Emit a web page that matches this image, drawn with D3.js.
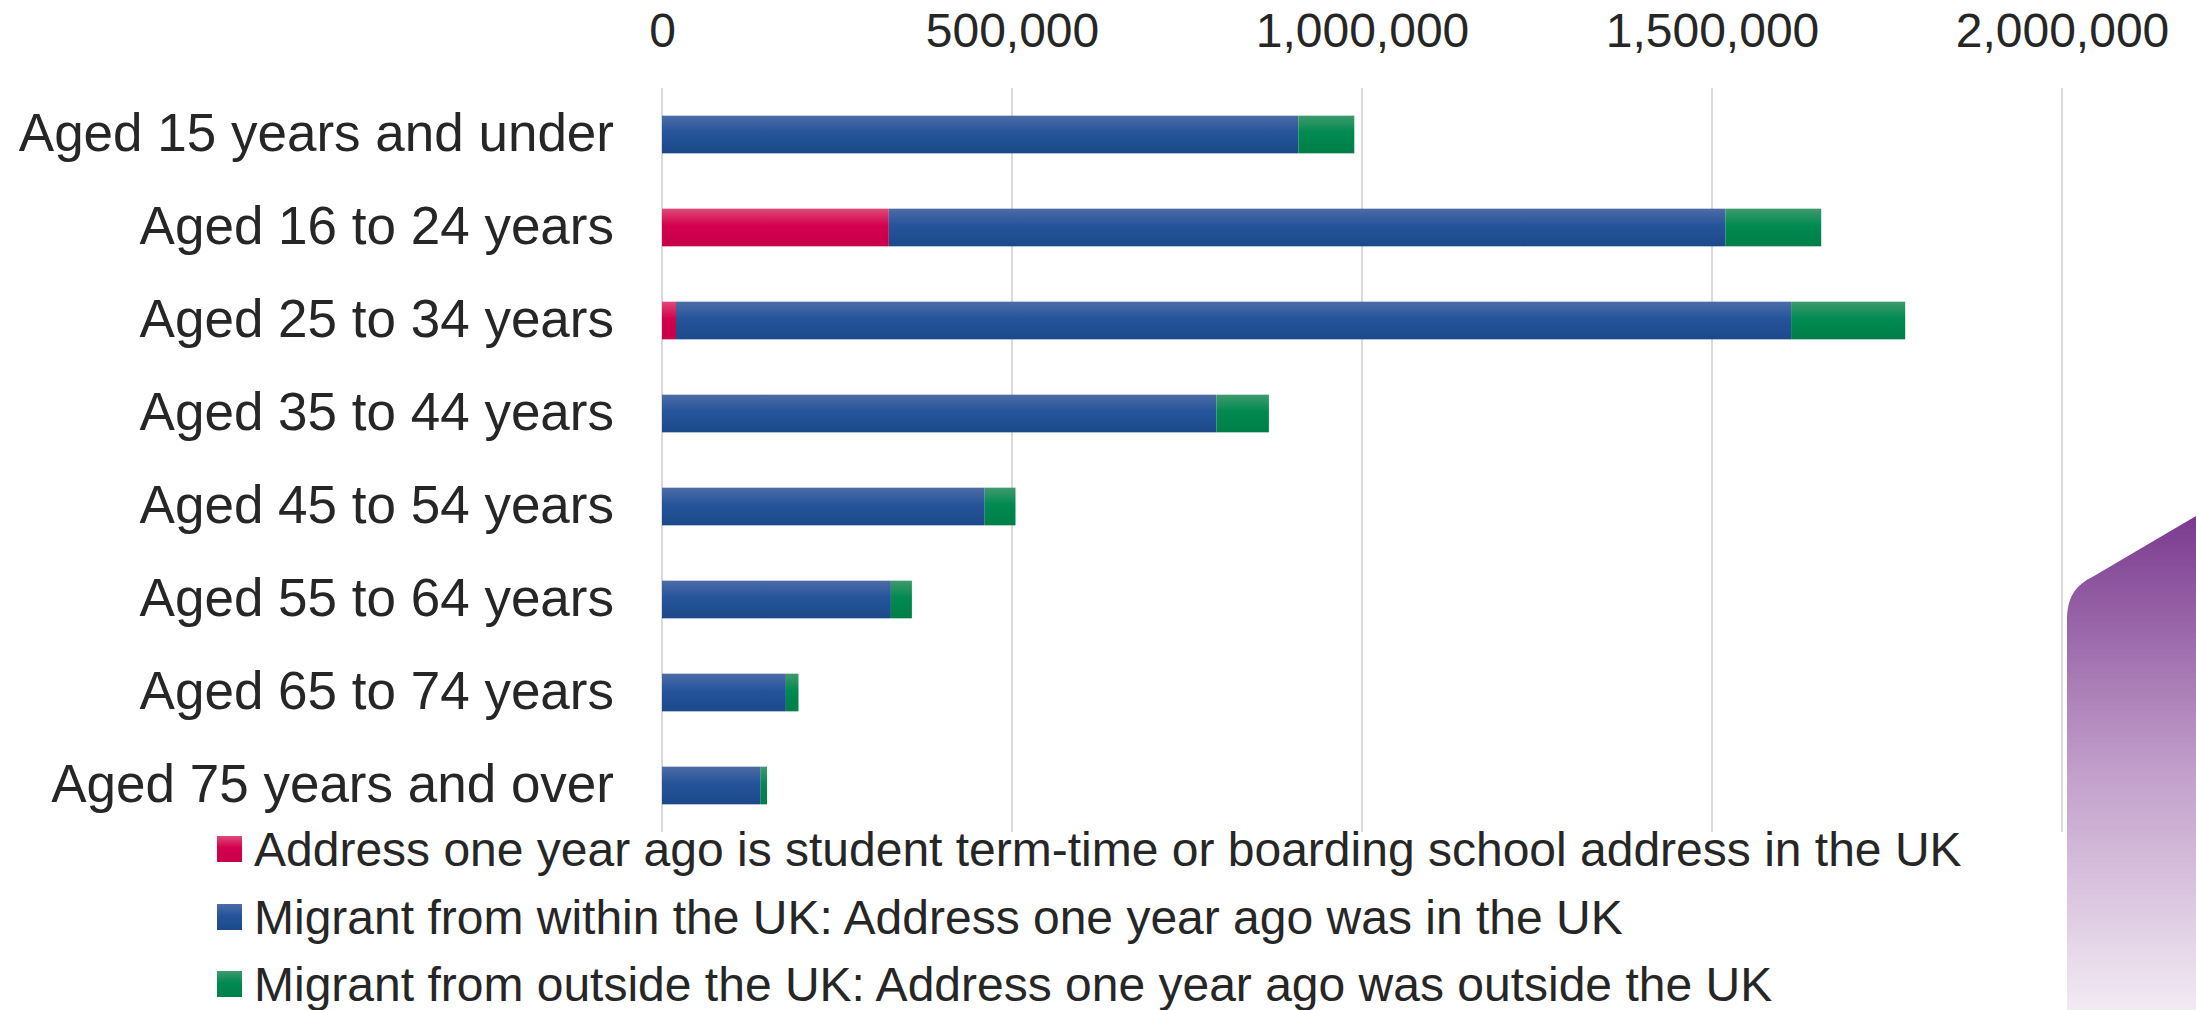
<!DOCTYPE html>
<html>
<head>
<meta charset="utf-8">
<script src="https://cdn.jsdelivr.net/npm/d3@7"></script>
<style>
  html, body { margin: 0; padding: 0; background: #ffffff; }
  svg { display: block; font-family: "Liberation Sans", Arial, sans-serif; }
</style>
</head>
<body>
<svg id="chart" width="2196" height="1010"></svg>
<script>
// Age bands, top to bottom
const categories = [
  "Aged 15 years and under",
  "Aged 16 to 24 years",
  "Aged 25 to 34 years",
  "Aged 35 to 44 years",
  "Aged 45 to 54 years",
  "Aged 55 to 64 years",
  "Aged 65 to 74 years",
  "Aged 75 years and over"
];

// Series names (stack order, left to right)
const seriesNames = [
  "Address one year ago is student term-time or boarding school address in the UK",
  "Migrant from within the UK: Address one year ago was in the UK",
  "Migrant from outside the UK: Address one year ago was outside the UK"
];

// Usual residents by migrant status, per age band
const studentValues = [0, 324000, 20000, 0, 0, 0, 0, 0];
const withinUKValues = [909000, 1195000, 1593000, 792000, 461000, 327000, 177000, 141000];
const outsideUKValues = [80000, 137000, 163000, 75000, 44000, 30000, 18000, 9000];

const tickValues = [0, 500000, 1000000, 1500000, 2000000];

const svg = d3.select("#chart");

const x = d3.scaleLinear().domain([0, 2000000]).range([662, 2062]);
const y = d3.scaleBand().domain(categories).range([88, 832])
  .paddingInner(0.595).paddingOuter(0.2975);

// Vertical gradients for bar fills and the corner decoration
const defs = svg.append("defs");
const palettes = [
  { id: "g-student", top: "#de4a78", mid: "#d4004f", bot: "#c70049" },
  { id: "g-within",  top: "#4d6ca6", mid: "#25549b", bot: "#1c4989" },
  { id: "g-outside", top: "#409a6c", mid: "#008a51", bot: "#007f47" }
];
palettes.forEach(p => {
  const g = defs.append("linearGradient").attr("id", p.id)
    .attr("x1", 0).attr("y1", 0).attr("x2", 0).attr("y2", 1);
  g.append("stop").attr("offset", "0%").attr("stop-color", p.top);
  g.append("stop").attr("offset", "45%").attr("stop-color", p.mid);
  g.append("stop").attr("offset", "100%").attr("stop-color", p.bot);
});
const deco = defs.append("linearGradient").attr("id", "g-deco")
  .attr("gradientUnits", "userSpaceOnUse")
  .attr("x1", 0).attr("y1", 515).attr("x2", 0).attr("y2", 1010);
deco.append("stop").attr("offset", "0%").attr("stop-color", "#7a3a8f");
deco.append("stop").attr("offset", "50%").attr("stop-color", "#bf9cc8");
deco.append("stop").attr("offset", "100%").attr("stop-color", "#f2eaf3");

// Corner decoration, bottom right
svg.append("path")
  .attr("d", "M2067,1010 L2067,622 C2067,598 2074,586 2094,576 L2196,516 L2196,1010 Z")
  .attr("fill", "url(#g-deco)");

// Gridlines
svg.append("g").selectAll("line").data(tickValues).join("line")
  .attr("x1", d => x(d)).attr("x2", d => x(d))
  .attr("y1", 88).attr("y2", 832)
  .attr("stroke", "#dadada").attr("stroke-width", 2);

// Stacked bars
const rows = categories.map((c, i) => ({
  cat: c,
  s0: studentValues[i], s1: withinUKValues[i], s2: outsideUKValues[i]
}));
const stack = d3.stack().keys(["s0", "s1", "s2"])(rows);
const fills = ["url(#g-student)", "url(#g-within)", "url(#g-outside)"];

svg.append("g").selectAll("g").data(stack).join("g")
  .attr("fill", (d, i) => fills[i])
  .selectAll("rect").data(d => d.filter(v => v[1] - v[0] > 0)).join("rect")
  .attr("x", d => x(d[0]))
  .attr("width", d => x(d[1]) - x(d[0]))
  .attr("y", d => y(d.data.cat))
  .attr("height", y.bandwidth());

// Top value axis
const xAxis = svg.append("g").attr("transform", "translate(0,47)")
  .call(d3.axisTop(x).tickValues(tickValues).tickSize(0).tickPadding(0)
    .tickFormat(d3.format(",")));
xAxis.select(".domain").remove();
xAxis.selectAll("text").attr("font-size", 48).attr("fill", "#262626")
  .attr("font-family", "Liberation Sans, Arial, sans-serif");

// Category axis
const yAxis = svg.append("g").attr("transform", "translate(662,0)")
  .call(d3.axisLeft(y).tickSize(0).tickPadding(48));
yAxis.select(".domain").remove();
yAxis.selectAll("text").attr("font-size", 53).attr("fill", "#262626")
  .attr("font-family", "Liberation Sans, Arial, sans-serif");

// Legend
const legend = svg.append("g");
const legendY = [849, 917, 984];
seriesNames.forEach((name, i) => {
  legend.append("rect")
    .attr("x", 217).attr("y", legendY[i] - 13)
    .attr("width", 25).attr("height", 26)
    .attr("fill", fills[i]);
  legend.append("text")
    .attr("x", 254).attr("y", legendY[i])
    .attr("dy", "0.35em")
    .attr("font-size", 48).attr("fill", "#262626")
    .text(name);
});
</script>
</body>
</html>
